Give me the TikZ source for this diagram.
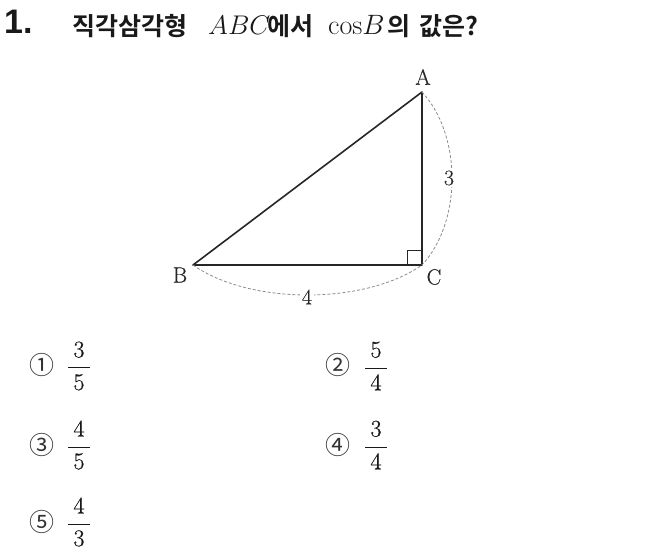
\documentclass[tikz,border=0pt]{standalone}
\usepackage{fix-cm}
\usepackage{fontspec}
\newfontfamily\cjkb{Noto Sans CJK KR Bold}
\newfontfamily\cjk{Noto Sans CJK KR}
\newfontfamily\numfont{Liberation Sans}
\newfontfamily\heavylm[FakeBold=0.5]{Latin Modern Roman}
\newfontfamily\midlm[FakeBold=0.25]{Latin Modern Roman}
\tikzset{
  tri/.style={line width=1.6pt, draw=black!85, line join=round},
  dim/.style={draw=black!45, line width=0.8pt, dash pattern=on 3pt off 2pt},
  lbl/.style={font=\midlm\fontsize{22}{26}\selectfont, text=black!85, inner sep=1pt},
  ttl/.style={anchor=base west, inner sep=0pt, text=black!90},
  circ/.style={font=\cjk\fontsize{25}{28}\selectfont, text=black!80, inner sep=0pt},
  frc/.style={font=\heavylm\fontsize{24}{28}\selectfont, text=black!90, inner sep=0pt}
}
\newcommand{\myfr}[2]{$\displaystyle\frac{\mkern4mu\mbox{#1}\mkern4mu}{\mkern4mu\mbox{#2}\mkern4mu}$}
\begin{document}
\begin{tikzpicture}[x=1pt,y=-1pt]
\useasboundingbox (0,0) rectangle (662,560);
% title
\node[ttl, font=\numfont\bfseries\fontsize{34}{38}\selectfont] (num) at (4,33) {1.};
\node[ttl, font=\cjkb\fontsize{25}{28}\selectfont] (t1) at (72,35) {직각삼각형};
\node[ttl, font=\fontsize{27}{30}\selectfont] (t2) at (208,34) {$ABC$};
\node[ttl, font=\cjkb\fontsize{25}{28}\selectfont] (t3) at (267,35) {에서};
\node[ttl, font=\fontsize{28}{30}\selectfont] (t4) at (328,34) {$\mathrm{cos}B$};
\node[ttl, font=\cjkb\fontsize{25}{28}\selectfont] (t5) at (387,35) {의};
\node[ttl, font=\cjkb\fontsize{25}{28}\selectfont] (t6) at (419,35) {값은?};
% triangle
\coordinate (A) at (422,92);
\coordinate (B) at (193,265);
\coordinate (C) at (422,265);
\draw[tri] (A) -- (B) -- (C) -- cycle;
\draw[line width=1pt, draw=black!85] ([xshift=-15pt]C) -- ([xshift=-15pt,yshift=15pt]C) -- ([yshift=15pt]C);
\draw[dim] (A) .. controls (462,135) and (462,222) .. (C);
\draw[dim] (B) .. controls (250,305) and (365,305) .. (C);
\node[lbl] (la) at (423,77) {A};
\node[lbl] (lb) at (180,275) {B};
\node[lbl] (lc) at (434,277) {C};
\node[lbl, fill=white, inner sep=2pt] (l3) at (449,178) {3};
\node[lbl, fill=white, inner sep=2pt] (l4) at (307,297) {4};
% choices
\node[circ] (c1) at (42,365) {①};
\node[frc] (f1) at (79,366) {\myfr{3}{5}};
\node[circ] (c2) at (338,365) {②};
\node[frc] (f2) at (376,366) {\myfr{5}{4}};
\node[circ] (c3) at (42,445) {③};
\node[frc] (f3) at (79,445) {\myfr{4}{5}};
\node[circ] (c4) at (338,445) {④};
\node[frc] (f4) at (376,445) {\myfr{3}{4}};
\node[circ] (c5) at (42,522) {⑤};
\node[frc] (f5) at (79,522) {\myfr{4}{3}};
\end{tikzpicture}
\end{document}
